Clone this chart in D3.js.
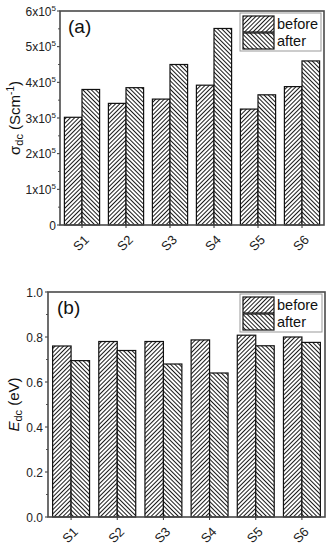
<!doctype html>
<html>
<head>
  <style>
    body { margin:0; background:#fff; }
    svg { display:block; font-family:"Liberation Sans", Arial, sans-serif; }
    .frame { fill:none; stroke:#4a4a4a; stroke-width:1.6; }
    .bar { stroke:#111; stroke-width:1.2; }
    .ticklab { font-size:12px; fill:#222; }
    .xlab { font-size:13px; fill:#222; }
  </style>
  <script src="https://cdn.jsdelivr.net/npm/d3@7"></script>
</head>
<body>
<script>
  // data
  var samples = ["S1", "S2", "S3", "S4", "S5", "S6"];
  var sigmaBefore = [3.02e5, 3.41e5, 3.53e5, 3.92e5, 3.25e5, 3.88e5];
  var sigmaAfter  = [3.80e5, 3.85e5, 4.50e5, 5.51e5, 3.65e5, 4.60e5];
  var eBefore = [0.76, 0.78, 0.78, 0.787, 0.808, 0.80];
  var eAfter  = [0.695, 0.74, 0.68, 0.64, 0.761, 0.776];
  var sigmaTicks = [0, 1e5, 2e5, 3e5, 4e5, 5e5, 6e5];
  var eTicks = [0, 0.2, 0.4, 0.6, 0.8, 1.0];
  var series = ["before", "after"];

  var svg = d3.select("body").append("svg")
     .attr("width", 334).attr("height", 550);

  // hatch patterns: before = "/", after = "\"
  var hs = 3.0;
  var defs = svg.append("defs");
  [["hatch-before", 45], ["hatch-after", -45]].forEach(function(p) {
     var pat = defs.append("pattern")
        .attr("id", p[0])
        .attr("patternUnits", "userSpaceOnUse")
        .attr("width", hs).attr("height", hs)
        .attr("patternTransform", "rotate(" + p[1] + ")");
     pat.append("rect").attr("width", hs).attr("height", hs).attr("fill", "#fff");
     pat.append("line")
        .attr("x1", 0.5).attr("y1", 0).attr("x2", 0.5).attr("y2", hs)
        .attr("stroke", "#000").attr("stroke-width", 0.9);
  });

  function panel(o) {
     var x = d3.scaleBand().domain(samples).range([o.left, o.right]).paddingInner(0.2).paddingOuter(0.1);
     var x1 = d3.scaleBand().domain(series).range([0, x.bandwidth()]);
     var y = d3.scaleLinear().domain([0, o.ymax]).range([o.bottom, o.top]);
     var g = svg.append("g");

     // bars
     var groups = g.selectAll("g.grp")
        .data(samples)
        .enter().append("g")
        .attr("transform", function(d) { return "translate(" + x(d) + ",0)"; });
     groups.selectAll("rect")
        .data(function(d, i) { return [{k:"before", v:o.before[i]}, {k:"after", v:o.after[i]}]; })
        .enter().append("rect")
        .attr("class", "bar")
        .attr("x", function(d) { return x1(d.k); })
        .attr("width", x1.bandwidth())
        .attr("y", function(d) { return y(d.v); })
        .attr("height", function(d) { return y(0) - y(d.v); })
        .attr("fill", function(d) { return "url(#hatch-" + d.k + ")"; });

     // y axis ticks: major outward, minor between
     var step = o.ticks[1] - o.ticks[0];
     var minor = o.ticks.slice(0, -1).map(function(t) { return t + step / 2; });
     g.selectAll("line.maj").data(o.ticks).enter().append("line")
        .attr("x1", o.left - 3).attr("x2", o.left)
        .attr("y1", function(d) { return y(d); }).attr("y2", function(d) { return y(d); })
        .attr("stroke", "#333");
     g.selectAll("line.min").data(minor).enter().append("line")
        .attr("x1", o.left - 2).attr("x2", o.left)
        .attr("y1", function(d) { return y(d); }).attr("y2", function(d) { return y(d); })
        .attr("stroke", "#555");
     // x ticks
     g.selectAll("line.xt").data(samples).enter().append("line")
        .attr("x1", function(d) { return x(d) + x.bandwidth() / 2; })
        .attr("x2", function(d) { return x(d) + x.bandwidth() / 2; })
        .attr("y1", o.bottom).attr("y2", o.bottom + 3)
        .attr("stroke", "#333");

     var lab = g.selectAll("text.tl").data(o.ticks).enter().append("text")
        .attr("class", "ticklab")
        .attr("x", o.labX)
        .attr("y", function(d) { return y(d) + 4.5; })
        .attr("text-anchor", "end");
     o.fmt(lab);

     g.selectAll("text.xl").data(samples).enter().append("text")
        .attr("class", "xlab")
        .attr("text-anchor", "middle")
        .attr("dominant-baseline", "central")
        .attr("transform", function(d) {
           return "translate(" + (x(d) + x.bandwidth() / 2 - 1) + "," + (o.bottom + 18) + ") rotate(-45)";
        })
        .text(function(d) { return d; });

     // frame
     g.append("rect").attr("class", "frame")
        .attr("x", o.left).attr("y", o.top)
        .attr("width", o.right - o.left).attr("height", o.bottom - o.top);

     // panel tag
     g.append("text")
        .attr("x", o.left + o.tagDx).attr("y", o.top + 22)
        .attr("font-size", 19).attr("fill", "#111")
        .text(o.tag);

     // legend
     var L = o.legend;
     var lg = g.append("g");
     lg.append("rect")
        .attr("x", L.x).attr("y", L.y).attr("width", L.w).attr("height", 38)
        .attr("fill", "#fff").attr("stroke", "#999").attr("stroke-width", 1);
     series.forEach(function(s, i) {
        lg.append("rect")
           .attr("class", "bar")
           .attr("x", L.x + 3).attr("y", L.y + 3 + i * 17)
           .attr("width", 31).attr("height", 16)
           .attr("fill", "url(#hatch-" + s + ")");
        lg.append("text")
           .attr("x", L.x + 37).attr("y", L.y + 16 + i * 17)
           .attr("font-size", 14.5).attr("fill", "#111")
           .text(s);
     });

     // y title
     var yt = g.append("text")
        .attr("transform", "translate(" + o.titleX + "," + ((o.top + o.bottom) / 2) + ") rotate(-90)")
        .attr("text-anchor", "middle")
        .attr("font-size", 15).attr("fill", "#111");
     o.title(yt);
  }

  // (a) conductivity
  panel({
     left:60, right:324, top:11, bottom:225, ymax:6e5,
     before:sigmaBefore, after:sigmaAfter, ticks:sigmaTicks,
     labX:56, tag:"(a)", tagDx:8, titleX:20,
     legend:{x:240, y:13, w:81},
     fmt:function(sel) {
        sel.each(function(d) {
           var t = d3.select(this);
           if (d === 0) { t.text("0"); return; }
           t.append("tspan").text((d / 1e5) + "x10");
           t.append("tspan").attr("font-size", 8).attr("dy", -5).text("5");
        });
     },
     title:function(t) {
        t.append("tspan").text("\u03c3");
        t.append("tspan").attr("font-size", 11).attr("dy", 3).text("dc");
        t.append("tspan").attr("dy", -3).text(" (Scm");
        t.append("tspan").attr("font-size", 10).attr("dy", -6).text("-1");
        t.append("tspan").attr("dy", 6).text(")");
     }
  });

  // (b) activation energy
  panel({
     left:48, right:325, top:292, bottom:517, ymax:1.0,
     before:eBefore, after:eAfter, ticks:eTicks,
     labX:43, tag:"(b)", tagDx:9, titleX:19,
     legend:{x:240, y:294, w:82},
     fmt:function(sel) { sel.text(function(d) { return d3.format(".1f")(d); }); },
     title:function(t) {
        t.append("tspan").attr("font-style", "italic").text("E");
        t.append("tspan").attr("font-size", 11).attr("dy", 3).text("dc");
        t.append("tspan").attr("dy", -3).text(" (eV)");
     }
  });
</script>
</body>
</html>
